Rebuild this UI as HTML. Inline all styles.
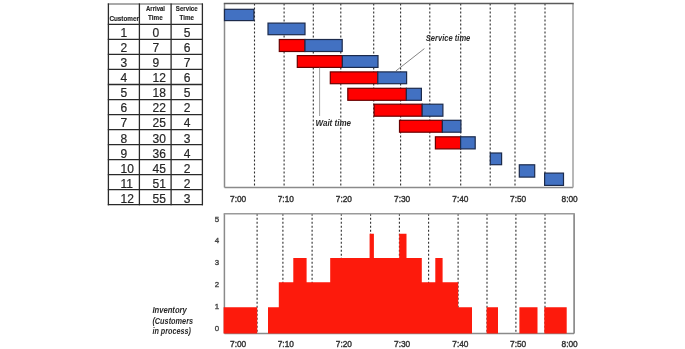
<!DOCTYPE html>
<html><head><meta charset="utf-8"><style>
html,body{margin:0;padding:0;background:#fff;}
body{width:685px;height:349px;overflow:hidden;font-family:'Liberation Sans', sans-serif;}
svg{display:block;filter:blur(0.35px);}
</style></head><body>
<svg width="685" height="349" viewBox="0 0 685 349">
<rect width="685" height="349" fill="#fff"/>
<line x1="107.8" y1="24.40" x2="203.0" y2="24.40" stroke="#2a2a2a" stroke-width="1.3"/>
<line x1="107.8" y1="39.42" x2="203.0" y2="39.42" stroke="#2a2a2a" stroke-width="1.3"/>
<line x1="107.8" y1="54.45" x2="203.0" y2="54.45" stroke="#2a2a2a" stroke-width="1.3"/>
<line x1="107.8" y1="69.47" x2="203.0" y2="69.47" stroke="#2a2a2a" stroke-width="1.3"/>
<line x1="107.8" y1="84.50" x2="203.0" y2="84.50" stroke="#2a2a2a" stroke-width="1.3"/>
<line x1="107.8" y1="99.53" x2="203.0" y2="99.53" stroke="#2a2a2a" stroke-width="1.3"/>
<line x1="107.8" y1="114.55" x2="203.0" y2="114.55" stroke="#2a2a2a" stroke-width="1.3"/>
<line x1="107.8" y1="129.57" x2="203.0" y2="129.57" stroke="#2a2a2a" stroke-width="1.3"/>
<line x1="107.8" y1="144.60" x2="203.0" y2="144.60" stroke="#2a2a2a" stroke-width="1.3"/>
<line x1="107.8" y1="159.62" x2="203.0" y2="159.62" stroke="#2a2a2a" stroke-width="1.3"/>
<line x1="107.8" y1="174.65" x2="203.0" y2="174.65" stroke="#2a2a2a" stroke-width="1.3"/>
<line x1="107.8" y1="189.67" x2="203.0" y2="189.67" stroke="#2a2a2a" stroke-width="1.3"/>
<line x1="107.8" y1="204.70" x2="203.0" y2="204.70" stroke="#2a2a2a" stroke-width="1.3"/>
<line x1="107.8" y1="4.0" x2="203.0" y2="4.0" stroke="#555" stroke-width="1.2"/>
<line x1="108.4" y1="3.4" x2="108.4" y2="205.29999999999998" stroke="#2a2a2a" stroke-width="1.3"/>
<line x1="139.4" y1="3.4" x2="139.4" y2="205.29999999999998" stroke="#2a2a2a" stroke-width="1.3"/>
<line x1="171.1" y1="3.4" x2="171.1" y2="205.29999999999998" stroke="#2a2a2a" stroke-width="1.3"/>
<line x1="202.4" y1="3.4" x2="202.4" y2="205.29999999999998" stroke="#2a2a2a" stroke-width="1.3"/>
<text x="109.4" y="21" style="font-family:'Liberation Sans', sans-serif;font-weight:bold;font-size:6.5px;fill:#222;stroke:#222;stroke-width:0.12" textLength="29.6" lengthAdjust="spacingAndGlyphs">Customer</text>
<text x="146" y="11" style="font-family:'Liberation Sans', sans-serif;font-weight:bold;font-size:6.5px;fill:#222;stroke:#222;stroke-width:0.12" textLength="19" lengthAdjust="spacingAndGlyphs">Arrival</text>
<text x="148.1" y="20.2" style="font-family:'Liberation Sans', sans-serif;font-weight:bold;font-size:6.5px;fill:#222;stroke:#222;stroke-width:0.12" textLength="14.6" lengthAdjust="spacingAndGlyphs">Time</text>
<text x="175.8" y="11" style="font-family:'Liberation Sans', sans-serif;font-weight:bold;font-size:6.5px;fill:#222;stroke:#222;stroke-width:0.12" textLength="21.9" lengthAdjust="spacingAndGlyphs">Service</text>
<text x="179.6" y="20.2" style="font-family:'Liberation Sans', sans-serif;font-weight:bold;font-size:6.5px;fill:#222;stroke:#222;stroke-width:0.12" textLength="14.4" lengthAdjust="spacingAndGlyphs">Time</text>
<text x="120.5" y="37.00" style="font-family:'Liberation Sans', sans-serif;font-size:12px;fill:#262626;stroke:#262626;stroke-width:0.2">1</text>
<text x="152.6" y="37.00" style="font-family:'Liberation Sans', sans-serif;font-size:12px;fill:#262626;stroke:#262626;stroke-width:0.2">0</text>
<text x="183.8" y="37.00" style="font-family:'Liberation Sans', sans-serif;font-size:12px;fill:#262626;stroke:#262626;stroke-width:0.2">5</text>
<text x="120.5" y="52.08" style="font-family:'Liberation Sans', sans-serif;font-size:12px;fill:#262626;stroke:#262626;stroke-width:0.2">2</text>
<text x="152.6" y="52.08" style="font-family:'Liberation Sans', sans-serif;font-size:12px;fill:#262626;stroke:#262626;stroke-width:0.2">7</text>
<text x="183.8" y="52.08" style="font-family:'Liberation Sans', sans-serif;font-size:12px;fill:#262626;stroke:#262626;stroke-width:0.2">6</text>
<text x="120.5" y="67.16" style="font-family:'Liberation Sans', sans-serif;font-size:12px;fill:#262626;stroke:#262626;stroke-width:0.2">3</text>
<text x="152.6" y="67.16" style="font-family:'Liberation Sans', sans-serif;font-size:12px;fill:#262626;stroke:#262626;stroke-width:0.2">9</text>
<text x="183.8" y="67.16" style="font-family:'Liberation Sans', sans-serif;font-size:12px;fill:#262626;stroke:#262626;stroke-width:0.2">7</text>
<text x="120.5" y="82.24" style="font-family:'Liberation Sans', sans-serif;font-size:12px;fill:#262626;stroke:#262626;stroke-width:0.2">4</text>
<text x="152.6" y="82.24" style="font-family:'Liberation Sans', sans-serif;font-size:12px;fill:#262626;stroke:#262626;stroke-width:0.2">12</text>
<text x="183.8" y="82.24" style="font-family:'Liberation Sans', sans-serif;font-size:12px;fill:#262626;stroke:#262626;stroke-width:0.2">6</text>
<text x="120.5" y="97.32" style="font-family:'Liberation Sans', sans-serif;font-size:12px;fill:#262626;stroke:#262626;stroke-width:0.2">5</text>
<text x="152.6" y="97.32" style="font-family:'Liberation Sans', sans-serif;font-size:12px;fill:#262626;stroke:#262626;stroke-width:0.2">18</text>
<text x="183.8" y="97.32" style="font-family:'Liberation Sans', sans-serif;font-size:12px;fill:#262626;stroke:#262626;stroke-width:0.2">5</text>
<text x="120.5" y="112.40" style="font-family:'Liberation Sans', sans-serif;font-size:12px;fill:#262626;stroke:#262626;stroke-width:0.2">6</text>
<text x="152.6" y="112.40" style="font-family:'Liberation Sans', sans-serif;font-size:12px;fill:#262626;stroke:#262626;stroke-width:0.2">22</text>
<text x="183.8" y="112.40" style="font-family:'Liberation Sans', sans-serif;font-size:12px;fill:#262626;stroke:#262626;stroke-width:0.2">2</text>
<text x="120.5" y="127.48" style="font-family:'Liberation Sans', sans-serif;font-size:12px;fill:#262626;stroke:#262626;stroke-width:0.2">7</text>
<text x="152.6" y="127.48" style="font-family:'Liberation Sans', sans-serif;font-size:12px;fill:#262626;stroke:#262626;stroke-width:0.2">25</text>
<text x="183.8" y="127.48" style="font-family:'Liberation Sans', sans-serif;font-size:12px;fill:#262626;stroke:#262626;stroke-width:0.2">4</text>
<text x="120.5" y="142.56" style="font-family:'Liberation Sans', sans-serif;font-size:12px;fill:#262626;stroke:#262626;stroke-width:0.2">8</text>
<text x="152.6" y="142.56" style="font-family:'Liberation Sans', sans-serif;font-size:12px;fill:#262626;stroke:#262626;stroke-width:0.2">30</text>
<text x="183.8" y="142.56" style="font-family:'Liberation Sans', sans-serif;font-size:12px;fill:#262626;stroke:#262626;stroke-width:0.2">3</text>
<text x="120.5" y="157.64" style="font-family:'Liberation Sans', sans-serif;font-size:12px;fill:#262626;stroke:#262626;stroke-width:0.2">9</text>
<text x="152.6" y="157.64" style="font-family:'Liberation Sans', sans-serif;font-size:12px;fill:#262626;stroke:#262626;stroke-width:0.2">36</text>
<text x="183.8" y="157.64" style="font-family:'Liberation Sans', sans-serif;font-size:12px;fill:#262626;stroke:#262626;stroke-width:0.2">4</text>
<text x="120.5" y="172.72" style="font-family:'Liberation Sans', sans-serif;font-size:12px;fill:#262626;stroke:#262626;stroke-width:0.2">10</text>
<text x="152.6" y="172.72" style="font-family:'Liberation Sans', sans-serif;font-size:12px;fill:#262626;stroke:#262626;stroke-width:0.2">45</text>
<text x="183.8" y="172.72" style="font-family:'Liberation Sans', sans-serif;font-size:12px;fill:#262626;stroke:#262626;stroke-width:0.2">2</text>
<text x="120.5" y="187.80" style="font-family:'Liberation Sans', sans-serif;font-size:12px;fill:#262626;stroke:#262626;stroke-width:0.2">11</text>
<text x="152.6" y="187.80" style="font-family:'Liberation Sans', sans-serif;font-size:12px;fill:#262626;stroke:#262626;stroke-width:0.2">51</text>
<text x="183.8" y="187.80" style="font-family:'Liberation Sans', sans-serif;font-size:12px;fill:#262626;stroke:#262626;stroke-width:0.2">2</text>
<text x="120.5" y="202.88" style="font-family:'Liberation Sans', sans-serif;font-size:12px;fill:#262626;stroke:#262626;stroke-width:0.2">12</text>
<text x="152.6" y="202.88" style="font-family:'Liberation Sans', sans-serif;font-size:12px;fill:#262626;stroke:#262626;stroke-width:0.2">55</text>
<text x="183.8" y="202.88" style="font-family:'Liberation Sans', sans-serif;font-size:12px;fill:#262626;stroke:#262626;stroke-width:0.2">3</text>
<line x1="224.5" y1="3.4" x2="224.5" y2="187.5" stroke="#8a8a8a" stroke-width="1.5"/>
<line x1="224.5" y1="187.5" x2="573.0" y2="187.5" stroke="#8a8a8a" stroke-width="1.5"/>
<line x1="254.5" y1="3.4" x2="254.5" y2="187.5" stroke="#2e2e2e" stroke-width="1.1" stroke-dasharray="2 2"/>
<line x1="284.1" y1="3.4" x2="284.1" y2="187.5" stroke="#2e2e2e" stroke-width="1.1" stroke-dasharray="2 2"/>
<line x1="313.3" y1="3.4" x2="313.3" y2="187.5" stroke="#2e2e2e" stroke-width="1.1" stroke-dasharray="2 2"/>
<line x1="340.8" y1="3.4" x2="340.8" y2="187.5" stroke="#2e2e2e" stroke-width="1.1" stroke-dasharray="2 2"/>
<line x1="373.7" y1="3.4" x2="373.7" y2="187.5" stroke="#2e2e2e" stroke-width="1.1" stroke-dasharray="2 2"/>
<line x1="400.6" y1="3.4" x2="400.6" y2="187.5" stroke="#2e2e2e" stroke-width="1.1" stroke-dasharray="2 2"/>
<line x1="429.8" y1="3.4" x2="429.8" y2="187.5" stroke="#2e2e2e" stroke-width="1.1" stroke-dasharray="2 2"/>
<line x1="460.7" y1="3.4" x2="460.7" y2="187.5" stroke="#2e2e2e" stroke-width="1.1" stroke-dasharray="2 2"/>
<line x1="490.2" y1="3.4" x2="490.2" y2="187.5" stroke="#2e2e2e" stroke-width="1.1" stroke-dasharray="2 2"/>
<line x1="515.0" y1="3.4" x2="515.0" y2="187.5" stroke="#2e2e2e" stroke-width="1.1" stroke-dasharray="2 2"/>
<line x1="545.0" y1="3.4" x2="545.0" y2="187.5" stroke="#2e2e2e" stroke-width="1.1" stroke-dasharray="2 2"/>
<rect x="224.5" y="9.3" width="29.40" height="11.30" fill="#4271c2" stroke="#1c2b4c" stroke-width="1.2"/>
<rect x="268.0" y="23.1" width="37.00" height="11.60" fill="#4271c2" stroke="#1c2b4c" stroke-width="1.2"/>
<rect x="279.3" y="39.5" width="25.70" height="12.00" fill="#ff0000" stroke="#6a0000" stroke-width="1.2"/>
<rect x="305.0" y="39.5" width="37.20" height="12.00" fill="#4271c2" stroke="#1c2b4c" stroke-width="1.2"/>
<rect x="297.3" y="55.6" width="45.10" height="11.80" fill="#ff0000" stroke="#6a0000" stroke-width="1.2"/>
<rect x="342.4" y="55.6" width="35.60" height="11.80" fill="#4271c2" stroke="#1c2b4c" stroke-width="1.2"/>
<rect x="330.3" y="71.9" width="47.50" height="11.80" fill="#ff0000" stroke="#6a0000" stroke-width="1.2"/>
<rect x="377.8" y="71.9" width="28.80" height="11.80" fill="#4271c2" stroke="#1c2b4c" stroke-width="1.2"/>
<rect x="347.8" y="88.3" width="58.60" height="12.00" fill="#ff0000" stroke="#6a0000" stroke-width="1.2"/>
<rect x="406.4" y="88.3" width="15.00" height="12.00" fill="#4271c2" stroke="#1c2b4c" stroke-width="1.2"/>
<rect x="374.1" y="104.2" width="48.10" height="12.00" fill="#ff0000" stroke="#6a0000" stroke-width="1.2"/>
<rect x="422.2" y="104.2" width="20.70" height="12.00" fill="#4271c2" stroke="#1c2b4c" stroke-width="1.2"/>
<rect x="399.5" y="120.3" width="42.90" height="11.90" fill="#ff0000" stroke="#6a0000" stroke-width="1.2"/>
<rect x="442.4" y="120.3" width="18.50" height="11.90" fill="#4271c2" stroke="#1c2b4c" stroke-width="1.2"/>
<rect x="435.4" y="136.8" width="25.20" height="12.10" fill="#ff0000" stroke="#6a0000" stroke-width="1.2"/>
<rect x="460.6" y="136.8" width="14.60" height="12.10" fill="#4271c2" stroke="#1c2b4c" stroke-width="1.2"/>
<rect x="490.3" y="153.0" width="11.30" height="11.70" fill="#4271c2" stroke="#1c2b4c" stroke-width="1.2"/>
<rect x="519.3" y="164.8" width="15.40" height="12.30" fill="#4271c2" stroke="#1c2b4c" stroke-width="1.2"/>
<rect x="544.6" y="173.1" width="18.90" height="12.30" fill="#4271c2" stroke="#1c2b4c" stroke-width="1.2"/>
<line x1="573.0" y1="3.4" x2="573.0" y2="187.5" stroke="#a0a0a0" stroke-width="1.5"/>
<line x1="223.8" y1="3.4" x2="573.7" y2="3.4" stroke="#5a5a5a" stroke-width="1.5"/>
<text x="425.8" y="41.0" style="font-family:'Liberation Sans', sans-serif;font-style:italic;font-weight:bold;font-size:8.3px;fill:#2a2a2a" textLength="44.5" lengthAdjust="spacingAndGlyphs">Service time</text>
<line x1="424.4" y1="48.6" x2="395.8" y2="71.0" stroke="#666" stroke-width="0.8"/>
<text x="315.5" y="125.8" style="font-family:'Liberation Sans', sans-serif;font-style:italic;font-weight:bold;font-size:8.3px;fill:#2a2a2a" textLength="35.5" lengthAdjust="spacingAndGlyphs">Wait time</text>
<line x1="319.6" y1="67.6" x2="319.6" y2="116" stroke="#888" stroke-width="0.8"/>
<line x1="224.4" y1="213.8" x2="224.4" y2="333.5" stroke="#8a8a8a" stroke-width="1.5"/>
<line x1="224.4" y1="333.5" x2="574.1" y2="333.5" stroke="#8a8a8a" stroke-width="1.5"/>
<line x1="257.1" y1="213.8" x2="257.1" y2="333.5" stroke="#2e2e2e" stroke-width="1.1" stroke-dasharray="2 2"/>
<line x1="282.9" y1="213.8" x2="282.9" y2="333.5" stroke="#2e2e2e" stroke-width="1.1" stroke-dasharray="2 2"/>
<line x1="312.1" y1="213.8" x2="312.1" y2="333.5" stroke="#2e2e2e" stroke-width="1.1" stroke-dasharray="2 2"/>
<line x1="341.3" y1="213.8" x2="341.3" y2="333.5" stroke="#2e2e2e" stroke-width="1.1" stroke-dasharray="2 2"/>
<line x1="370.6" y1="213.8" x2="370.6" y2="333.5" stroke="#2e2e2e" stroke-width="1.1" stroke-dasharray="2 2"/>
<line x1="399.4" y1="213.8" x2="399.4" y2="333.5" stroke="#2e2e2e" stroke-width="1.1" stroke-dasharray="2 2"/>
<line x1="428.6" y1="213.8" x2="428.6" y2="333.5" stroke="#2e2e2e" stroke-width="1.1" stroke-dasharray="2 2"/>
<line x1="458.1" y1="213.8" x2="458.1" y2="333.5" stroke="#2e2e2e" stroke-width="1.1" stroke-dasharray="2 2"/>
<line x1="487.0" y1="213.8" x2="487.0" y2="333.5" stroke="#2e2e2e" stroke-width="1.1" stroke-dasharray="2 2"/>
<line x1="515.9" y1="213.8" x2="515.9" y2="333.5" stroke="#2e2e2e" stroke-width="1.1" stroke-dasharray="2 2"/>
<line x1="545.0" y1="213.8" x2="545.0" y2="333.5" stroke="#2e2e2e" stroke-width="1.1" stroke-dasharray="2 2"/>
<path d="M223.6,333.6 L223.6,307.3 L257.2,307.3 L257.2,333.6 L268.0,333.6 L268.0,307.3 L278.8,307.3 L278.8,282.2 L293.3,282.2 L293.3,257.9 L306.6,257.9 L306.6,282.2 L330.2,282.2 L330.2,257.9 L369.6,257.9 L369.6,233.8 L373.9,233.8 L373.9,257.9 L399.2,257.9 L399.2,233.8 L406.5,233.8 L406.5,257.9 L421.8,257.9 L421.8,282.2 L435.3,282.2 L435.3,257.9 L442.6,257.9 L442.6,282.2 L458.2,282.2 L458.2,307.3 L472.0,307.3 L472.0,333.6 L486.6,333.6 L486.6,307.3 L498.0,307.3 L498.0,333.6 L519.4,333.6 L519.4,307.3 L537.5,307.3 L537.5,333.6 L544.3,333.6 L544.3,307.3 L566.7,307.3 L566.7,333.6 L574.0,333.6 L574.0,333.6 Z" fill="#fd1a0c"/>
<line x1="574.1" y1="213.8" x2="574.1" y2="333.5" stroke="#7a7a7a" stroke-width="1.5"/>
<line x1="223.70000000000002" y1="213.8" x2="574.8000000000001" y2="213.8" stroke="#9a9a9a" stroke-width="1.5"/>
<text x="219.2" y="330.50" text-anchor="end" style="font-family:'Liberation Sans', sans-serif;font-size:7.9px;fill:#444;stroke:#444;stroke-width:0.35">0</text>
<text x="219.2" y="308.70" text-anchor="end" style="font-family:'Liberation Sans', sans-serif;font-size:7.9px;fill:#444;stroke:#444;stroke-width:0.35">1</text>
<text x="219.2" y="286.90" text-anchor="end" style="font-family:'Liberation Sans', sans-serif;font-size:7.9px;fill:#444;stroke:#444;stroke-width:0.35">2</text>
<text x="219.2" y="265.10" text-anchor="end" style="font-family:'Liberation Sans', sans-serif;font-size:7.9px;fill:#444;stroke:#444;stroke-width:0.35">3</text>
<text x="219.2" y="243.30" text-anchor="end" style="font-family:'Liberation Sans', sans-serif;font-size:7.9px;fill:#444;stroke:#444;stroke-width:0.35">4</text>
<text x="219.2" y="221.50" text-anchor="end" style="font-family:'Liberation Sans', sans-serif;font-size:7.9px;fill:#444;stroke:#444;stroke-width:0.35">5</text>
<text x="152.4" y="312.7" style="font-family:'Liberation Sans', sans-serif;font-style:italic;font-weight:bold;font-size:8.3px;fill:#2a2a2a" textLength="34.4" lengthAdjust="spacingAndGlyphs">Inventory</text>
<text x="152.4" y="323.6" style="font-family:'Liberation Sans', sans-serif;font-style:italic;font-weight:bold;font-size:8.3px;fill:#2a2a2a" textLength="40.7" lengthAdjust="spacingAndGlyphs">(Customers</text>
<text x="152.4" y="334.3" style="font-family:'Liberation Sans', sans-serif;font-style:italic;font-weight:bold;font-size:8.3px;fill:#2a2a2a" textLength="38.6" lengthAdjust="spacingAndGlyphs">in process)</text>
<text x="230.0" y="201.7" style="font-family:'Liberation Sans', sans-serif;font-size:8.8px;fill:#333;stroke:#333;stroke-width:0.4" textLength="16.2" lengthAdjust="spacingAndGlyphs">7:00</text>
<text x="230.0" y="346.6" style="font-family:'Liberation Sans', sans-serif;font-size:8.8px;fill:#333;stroke:#333;stroke-width:0.4" textLength="16.2" lengthAdjust="spacingAndGlyphs">7:00</text>
<text x="277.7" y="201.7" style="font-family:'Liberation Sans', sans-serif;font-size:8.8px;fill:#333;stroke:#333;stroke-width:0.4" textLength="16.2" lengthAdjust="spacingAndGlyphs">7:10</text>
<text x="277.7" y="346.6" style="font-family:'Liberation Sans', sans-serif;font-size:8.8px;fill:#333;stroke:#333;stroke-width:0.4" textLength="16.2" lengthAdjust="spacingAndGlyphs">7:10</text>
<text x="335.8" y="201.7" style="font-family:'Liberation Sans', sans-serif;font-size:8.8px;fill:#333;stroke:#333;stroke-width:0.4" textLength="16.2" lengthAdjust="spacingAndGlyphs">7:20</text>
<text x="335.8" y="346.6" style="font-family:'Liberation Sans', sans-serif;font-size:8.8px;fill:#333;stroke:#333;stroke-width:0.4" textLength="16.2" lengthAdjust="spacingAndGlyphs">7:20</text>
<text x="394.0" y="201.7" style="font-family:'Liberation Sans', sans-serif;font-size:8.8px;fill:#333;stroke:#333;stroke-width:0.4" textLength="16.2" lengthAdjust="spacingAndGlyphs">7:30</text>
<text x="394.0" y="346.6" style="font-family:'Liberation Sans', sans-serif;font-size:8.8px;fill:#333;stroke:#333;stroke-width:0.4" textLength="16.2" lengthAdjust="spacingAndGlyphs">7:30</text>
<text x="452.3" y="201.7" style="font-family:'Liberation Sans', sans-serif;font-size:8.8px;fill:#333;stroke:#333;stroke-width:0.4" textLength="16.2" lengthAdjust="spacingAndGlyphs">7:40</text>
<text x="452.3" y="346.6" style="font-family:'Liberation Sans', sans-serif;font-size:8.8px;fill:#333;stroke:#333;stroke-width:0.4" textLength="16.2" lengthAdjust="spacingAndGlyphs">7:40</text>
<text x="510.0" y="201.7" style="font-family:'Liberation Sans', sans-serif;font-size:8.8px;fill:#333;stroke:#333;stroke-width:0.4" textLength="16.2" lengthAdjust="spacingAndGlyphs">7:50</text>
<text x="510.0" y="346.6" style="font-family:'Liberation Sans', sans-serif;font-size:8.8px;fill:#333;stroke:#333;stroke-width:0.4" textLength="16.2" lengthAdjust="spacingAndGlyphs">7:50</text>
<text x="561.5" y="201.7" style="font-family:'Liberation Sans', sans-serif;font-size:8.8px;fill:#333;stroke:#333;stroke-width:0.4" textLength="16.2" lengthAdjust="spacingAndGlyphs">8:00</text>
<text x="561.5" y="346.6" style="font-family:'Liberation Sans', sans-serif;font-size:8.8px;fill:#333;stroke:#333;stroke-width:0.4" textLength="16.2" lengthAdjust="spacingAndGlyphs">8:00</text>
</svg>
</body></html>
